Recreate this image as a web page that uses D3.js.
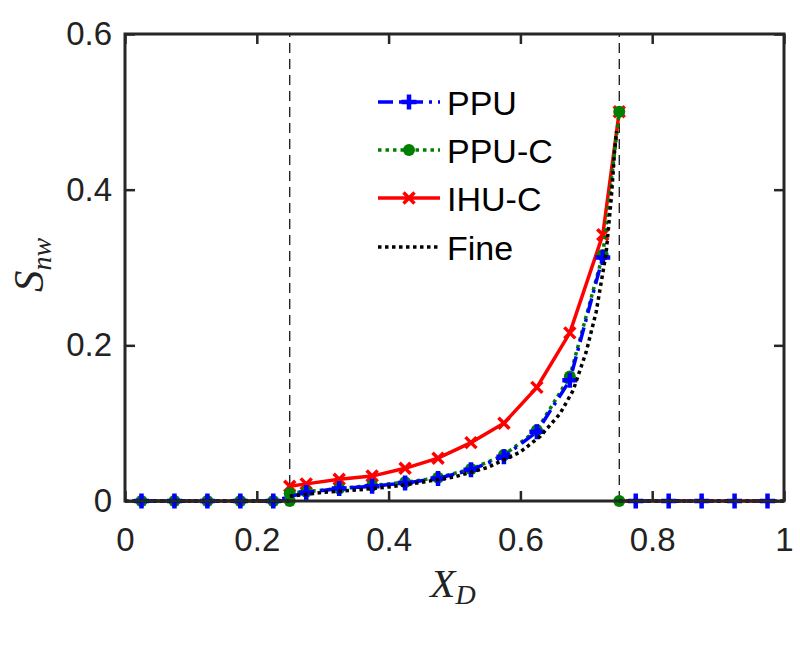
<!DOCTYPE html>
<html>
  <head>
    <style>
    body {
      font-family: "Liberation Sans", Arial, sans-serif;
      margin: 0;
      background: #fff;
    }
    </style>
  </head>
  <body>
    <script src="https://d3js.org/d3.v7.min.js"></script>
    <script>
    var width = 800, height = 646;

    // cell centres and values
    var cellX = [0.025, 0.075, 0.125, 0.175, 0.225, 0.275, 0.325, 0.375, 0.425, 0.475,
                 0.525, 0.575, 0.625, 0.675, 0.725, 0.775, 0.825, 0.875, 0.925, 0.975];
    var ppu   = [0, 0, 0, 0, 0, 0.011, 0.016, 0.019, 0.023, 0.029,
                 0.040, 0.057, 0.089, 0.155, 0.313, 0, 0, 0, 0, 0];
    var ppuc  = [0, 0, 0, 0, 0, 0.012, 0.016, 0.020, 0.024, 0.030,
                 0.041, 0.059, 0.091, 0.160, 0.316, 0, 0, 0, 0, 0];
    var ihuc  = [0, 0, 0, 0, 0, 0.022, 0.028, 0.032, 0.042, 0.055,
                 0.075, 0.100, 0.146, 0.216, 0.342, 0, 0, 0, 0, 0];

    // values at the two faces (inside / outside the zone)
    var faceX = [0.25, 0.75];
    var ppucIn = [0.010, 0.5];
    var ppucOut = [0, 0];
    var ihucIn = [0.019, 0.5];

    // fine grid reference
    var fineX = [0.25, 0.30, 0.35, 0.40, 0.45, 0.50, 0.55, 0.60, 0.63, 0.66,
                 0.68, 0.70, 0.715, 0.73, 0.738, 0.743, 0.746];
    var fineS = [0.006, 0.011, 0.014, 0.018, 0.024, 0.031, 0.043, 0.063, 0.083, 0.112,
                 0.142, 0.192, 0.243, 0.318, 0.39, 0.45, 0.475];

    var xTicks = [0, 0.2, 0.4, 0.6, 0.8, 1];
    var xTickLabels = ["0", "0.2", "0.4", "0.6", "0.8", "1"];
    var yTicks = [0, 0.2, 0.4, 0.6];
    var yTickLabels = ["0", "0.2", "0.4", "0.6"];

    var legendNames = ["PPU", "PPU-C", "IHU-C", "Fine"];

    var x = d3.scaleLinear().domain([0, 1]).range([125, 784]);
    var y = d3.scaleLinear().domain([0, 0.6]).range([501, 34]);

    var svg = d3.select("body").append("svg")
        .attr("width", width)
        .attr("height", height);

    function pts(xs, vs) { return xs.map(function(d, i) { return [d, vs[i]]; }); }

    var line = d3.line()
        .x(function(d) { return x(d[0]); })
        .y(function(d) { return y(d[1]); });

    var plotG = svg.append("g");

    // dashed zone boundaries
    plotG.selectAll(".face")
        .data(faceX)
      .enter().append("line")
        .attr("x1", function(d) { return x(d); })
        .attr("x2", function(d) { return x(d); })
        .attr("y1", y(0)).attr("y2", y(0.6))
        .attr("stroke", "#000")
        .attr("stroke-width", 1.2)
        .attr("stroke-dasharray", "10,6");

    var blue = "#0000ff", green = "#008000", red = "#ff0000";
    var lw = 3.5;

    function plus(g, px, py, c) {
      g.append("path")
        .attr("d", "M" + (px - 7.5) + "," + py + "H" + (px + 7.5) + "M" + px + "," + (py - 7.5) + "V" + (py + 7.5))
        .attr("stroke", c).attr("stroke-width", 4.5).attr("fill", "none");
    }
    function cross(g, px, py, c) {
      g.append("path")
        .attr("d", "M" + (px - 5.5) + "," + (py - 5.5) + "L" + (px + 5.5) + "," + (py + 5.5) + "M" + (px - 5.5) + "," + (py + 5.5) + "L" + (px + 5.5) + "," + (py - 5.5))
        .attr("stroke", c).attr("stroke-width", 3.5).attr("fill", "none");
    }
    function dot(g, px, py, c) {
      g.append("circle").attr("cx", px).attr("cy", py).attr("r", 6).attr("fill", c);
    }

    // IHU-C
    var ihucLeft = pts(cellX.slice(0, 5), ihuc.slice(0, 5)).concat([[faceX[0], 0]]);
    var ihucMid = [[faceX[0], ihucIn[0]]].concat(pts(cellX.slice(5, 15), ihuc.slice(5, 15)), [[faceX[1], ihucIn[1]]]);
    var ihucRight = [[faceX[1], 0]].concat(pts(cellX.slice(15), ihuc.slice(15)));
    [ihucLeft, ihucMid, ihucRight].forEach(function(seg) {
      plotG.append("path").attr("d", line(seg)).attr("fill", "none")
        .attr("stroke", red).attr("stroke-width", lw);
    });
    ihucMid.forEach(function(d) { cross(plotG, x(d[0]), y(d[1]), red); });

    // PPU-C
    var ppucLeft = pts(cellX.slice(0, 5), ppuc.slice(0, 5)).concat([[faceX[0], ppucOut[0]]]);
    var ppucMid = [[faceX[0], ppucIn[0]]].concat(pts(cellX.slice(5, 15), ppuc.slice(5, 15)), [[faceX[1], ppucIn[1]]]);
    [ppucLeft, ppucMid].forEach(function(seg) {
      plotG.append("path").attr("d", line(seg)).attr("fill", "none")
        .attr("stroke", green).attr("stroke-width", lw).attr("stroke-dasharray", "3.5,4");
    });
    ppucLeft.concat(ppucMid, [[faceX[1], ppucOut[1]]]).forEach(function(d) { dot(plotG, x(d[0]), y(d[1]), green); });

    // PPU
    var ppuA = pts(cellX.slice(0, 15), ppu.slice(0, 15));
    var ppuB = pts(cellX.slice(15), ppu.slice(15));
    [ppuA, ppuB].forEach(function(seg) {
      plotG.append("path").attr("d", line(seg)).attr("fill", "none")
        .attr("stroke", blue).attr("stroke-width", lw).attr("stroke-dasharray", "15,6,3,6");
    });
    ppuA.concat(ppuB).forEach(function(d) { plus(plotG, x(d[0]), y(d[1]), blue); });

    // Fine
    var fineSegs = [[[0, 0], [faceX[0], 0]], pts(fineX, fineS), [[faceX[1], 0], [1, 0]]];
    fineSegs.forEach(function(seg) {
      plotG.append("path").attr("d", line(seg)).attr("fill", "none")
        .attr("stroke", "#000").attr("stroke-width", lw).attr("stroke-dasharray", "3.5,3.5");
    });

    // axes
    var axCol = "#262626";
    var xAxis = svg.append("g").attr("transform", "translate(0," + y(0) + ")")
        .call(d3.axisBottom(x).tickValues(xTicks).tickSize(-10).tickPadding(27)
          .tickFormat(function(d, i) { return xTickLabels[i]; }));
    var yAxis = svg.append("g").attr("transform", "translate(" + x(0) + ",0)")
        .call(d3.axisLeft(y).tickValues(yTicks).tickSize(-10).tickPadding(13)
          .tickFormat(function(d, i) { return yTickLabels[i]; }));
    var xTop = svg.append("g").attr("transform", "translate(0," + y(0.6) + ")")
        .call(d3.axisTop(x).tickValues(xTicks).tickSize(-10).tickFormat(""));
    var yRight = svg.append("g").attr("transform", "translate(" + x(1) + ",0)")
        .call(d3.axisRight(y).tickValues(yTicks).tickSize(-10).tickFormat(""));

    [xAxis, yAxis, xTop, yRight].forEach(function(a) {
      a.select(".domain").remove();
      a.selectAll("line").attr("stroke", axCol).attr("stroke-width", 2.5);
      a.selectAll("text").attr("fill", "#222")
        .style("font-family", "'Liberation Sans', Arial, sans-serif")
        .style("font-size", "33px");
    });

    svg.append("rect")
        .attr("x", x(0)).attr("y", y(0.6))
        .attr("width", x(1) - x(0)).attr("height", y(0) - y(0.6))
        .attr("fill", "none").attr("stroke", axCol).attr("stroke-width", 3);

    // axis titles
    var xt = svg.append("text")
        .attr("x", 453).attr("y", 597)
        .attr("text-anchor", "middle")
        .style("font-family", "'Liberation Serif', 'Times New Roman', serif")
        .style("font-style", "italic")
        .style("font-size", "41px")
        .attr("fill", "#222");
    xt.append("tspan").text("X");
    xt.append("tspan").attr("dy", 7).style("font-size", "28px").text("D");

    var yt = svg.append("text")
        .attr("transform", "translate(43,265) rotate(-90)")
        .attr("text-anchor", "middle")
        .style("font-family", "'Liberation Serif', 'Times New Roman', serif")
        .style("font-style", "italic")
        .style("font-size", "43px")
        .attr("fill", "#222");
    yt.append("tspan").text("S");
    yt.append("tspan").attr("dy", 8).style("font-size", "28px").text("nw");

    // legend
    var legY = [102, 150, 198, 247];
    var lg = svg.append("g");
    var lx0 = 378, lx1 = 440, lxm = 409;
    function legLine(row) {
      return line([[x.invert(lx0), y.invert(legY[row])], [x.invert(lx1), y.invert(legY[row])]]);
    }
    lg.append("path").attr("d", legLine(0))
      .attr("stroke", blue).attr("stroke-width", lw).attr("stroke-dasharray", "15,6,3,6").attr("fill", "none");
    plus(lg, lxm, legY[0], blue);
    lg.append("path").attr("d", legLine(1))
      .attr("stroke", green).attr("stroke-width", lw).attr("stroke-dasharray", "3.5,4").attr("fill", "none");
    dot(lg, lxm, legY[1], green);
    lg.append("path").attr("d", legLine(2))
      .attr("stroke", red).attr("stroke-width", lw).attr("fill", "none");
    cross(lg, lxm, legY[2], red);
    lg.append("path").attr("d", legLine(3))
      .attr("stroke", "#000").attr("stroke-width", lw).attr("stroke-dasharray", "3.5,3.5").attr("fill", "none");

    lg.selectAll(".leg-label")
        .data(legendNames)
      .enter().append("text")
        .attr("class", "leg-label")
        .attr("x", 447)
        .attr("y", function(d, i) { return legY[i] + 13; })
        .style("font-family", "'Liberation Sans', Arial, sans-serif")
        .style("font-size", "34px")
        .attr("fill", "#000")
        .text(function(d) { return d; });
    </script>
  </body>
</html>
